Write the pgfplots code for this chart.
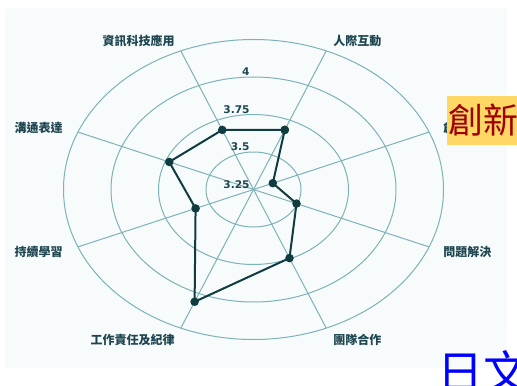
\documentclass[border=0pt]{standalone}
\usepackage{pgfplots}
\usepackage{pgfplotstable}
\pgfplotsset{compat=1.18}
\usepackage{fontspec}
\setmainfont{DejaVu Sans}
\newfontfamily\cjk{Noto Sans CJK TC}
\definecolor{gridc}{RGB}{125,178,184}
\definecolor{linec}{RGB}{16,60,64}
\definecolor{labc}{RGB}{30,70,80}
\definecolor{bgc}{RGB}{248,251,251}
\definecolor{boxc}{RGB}{255,215,100}
\definecolor{redc}{RGB}{160,0,0}

% angle (deg) and score; the chart centre is 3.25, outer ring 4.25
\pgfplotstableread{
ang   val
67.5  3.68
112.5 3.68
157.5 3.73
202.5 3.58
247.5 4.06
292.5 3.745
337.5 3.495
22.5  3.36
67.5  3.68
}\scores

\tikzset{px/.style={x=0.5pt, y=-0.5pt, shift={(-126.75pt,94.75pt)}}}

\begin{document}
\begin{tikzpicture}
\begin{scope}[px]
  \fill[bgc] (5,8) rectangle (507,368);
\end{scope}

\begin{axis}[
  at={(0,0)}, anchor=origin,
  scale only axis, width=190pt, height=150pt,
  xmin=-1, xmax=1, ymin=-1, ymax=1,
  hide axis, clip=false,
]
% rings
\draw[gridc, line width=0.5pt] (axis cs:0,0) ellipse [x radius=0.25, y radius=0.25];
\draw[gridc, line width=0.5pt] (axis cs:0,0) ellipse [x radius=0.5, y radius=0.5];
\draw[gridc, line width=0.5pt] (axis cs:0,0) ellipse [x radius=0.75, y radius=0.75];
\draw[gridc, line width=0.5pt] (axis cs:0,0) ellipse [x radius=1, y radius=1];
% spokes
\addplot[gridc, line width=0.5pt, data cs=polar] coordinates {(22.5,1) (202.5,1)};
\addplot[gridc, line width=0.5pt, data cs=polar] coordinates {(67.5,1) (247.5,1)};
\addplot[gridc, line width=0.5pt, data cs=polar] coordinates {(112.5,1) (292.5,1)};
\addplot[gridc, line width=0.5pt, data cs=polar] coordinates {(157.5,1) (337.5,1)};
% scores
\addplot[linec, line width=1pt, mark=*, mark size=1.6pt, data cs=polar]
  table[x=ang, y expr=\thisrow{val}-3.25] {\scores};
\end{axis}

\begin{scope}[px, every node/.style={inner sep=0pt, text=labc}]
  \tikzset{lab/.style={font=\cjk\bfseries\fontsize{6pt}{7pt}\selectfont}}
  \node[lab, anchor=east] at (175,41) {資訊科技應用};
  \node[lab, anchor=west] at (333,41) {人際互動};
  \node[lab, anchor=east] at (63,128) {溝通表達};
  \node[lab, anchor=east] at (63,252) {持續學習};
  \node[lab, anchor=east] at (175,340) {工作責任及紀律};
  \node[lab, anchor=west] at (333,340) {團隊合作};
  \node[lab, anchor=west] at (443,252) {問題解決};
  \node[lab, anchor=west] at (443,128) {創新};
  \tikzset{num/.style={font=\bfseries\fontsize{5.3pt}{6pt}\selectfont, anchor=east}}
  \node[num] at (250,72) {4};
  \node[num] at (250,110) {3.75};
  \node[num] at (250,147) {3.5};
  \node[num] at (250,185) {3.25};
  % overlays
  \fill[boxc] (447,96) rectangle (517,145);
  \node[anchor=west, text=redc, font=\cjk\fontsize{17.5pt}{18pt}\selectfont] at (448,120) {創新};
  \node[anchor=base west, text=blue, font=\cjk\fontsize{23pt}{24pt}\selectfont] at (437,389) {日文};
\end{scope}

\pgfresetboundingbox
\path[px] (0,0) rectangle (517,385);
\end{tikzpicture}
\end{document}
